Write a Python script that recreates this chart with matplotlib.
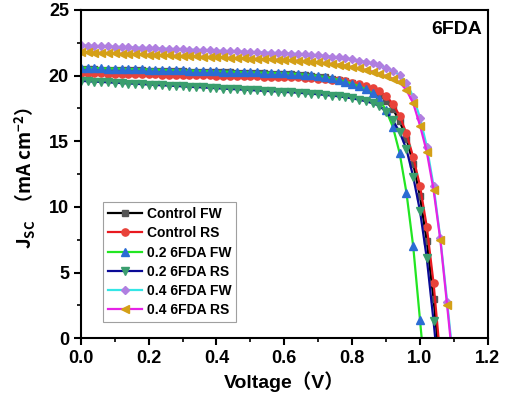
import numpy as np
import matplotlib
matplotlib.use("Agg")
from matplotlib import pyplot as plt
from matplotlib.ticker import MultipleLocator

plt.rcParams['font.family'] = ['Liberation Sans', 'Noto Sans CJK SC', 'DejaVu Sans']
plt.rcParams['font.weight'] = 'bold'
plt.rcParams['mathtext.default'] = 'regular'

# voltage grid of the measurement (V), 0.02 V step
voltage = np.round(np.arange(0, 1.101, 0.02), 2)

labels = ['Control FW', 'Control RS', '0.2 6FDA FW', '0.2 6FDA RS',
          '0.4 6FDA FW', '0.4 6FDA RS']

control_fw = [20.50, 20.49, 20.48, 20.46, 20.45, 20.44, 20.43, 20.42, 20.40, 20.39,
              20.38, 20.37, 20.36, 20.34, 20.33, 20.32, 20.31, 20.30, 20.28, 20.27,
              20.26, 20.25, 20.24, 20.22, 20.21, 20.20, 20.19, 20.18, 20.16, 20.15,
              20.14, 20.11, 20.08, 20.04, 19.99, 19.93, 19.86, 19.78, 19.68, 19.57,
              19.43, 19.27, 19.08, 18.84, 18.52, 18.08, 17.45, 16.55, 15.20, 13.30,
              10.80, 7.40, 3.00, -2.50]
control_rs = [20.20, 20.19, 20.18, 20.17, 20.16, 20.15, 20.14, 20.13, 20.12, 20.11,
              20.10, 20.09, 20.08, 20.07, 20.06, 20.05, 20.04, 20.03, 20.02, 20.01,
              20.00, 19.99, 19.98, 19.97, 19.96, 19.95, 19.94, 19.93, 19.92, 19.91,
              19.90, 19.88, 19.86, 19.84, 19.81, 19.78, 19.74, 19.69, 19.63, 19.56,
              19.47, 19.36, 19.22, 19.05, 18.82, 18.45, 17.85, 16.95, 15.60, 13.80,
              11.60, 8.50, 4.20, -1.50]
fda02_fw = [20.60, 20.59, 20.57, 20.56, 20.54, 20.53, 20.52, 20.50, 20.49, 20.47,
            20.46, 20.45, 20.43, 20.42, 20.40, 20.39, 20.38, 20.36, 20.35, 20.33,
            20.32, 20.31, 20.29, 20.28, 20.26, 20.25, 20.24, 20.22, 20.21, 20.19,
            20.18, 20.15, 20.12, 20.08, 20.03, 19.97, 19.89, 19.80, 19.69, 19.55,
            19.39, 19.20, 18.97, 18.65, 18.20, 17.35, 16.10, 14.10, 11.10, 7.00,
            1.40, -4.20]
fda02_rs = [19.60, 19.57, 19.54, 19.52, 19.49, 19.46, 19.43, 19.40, 19.38, 19.35,
            19.32, 19.29, 19.26, 19.24, 19.21, 19.18, 19.15, 19.12, 19.10, 19.07,
            19.04, 19.01, 18.98, 18.96, 18.93, 18.90, 18.87, 18.84, 18.82, 18.79,
            18.76, 18.73, 18.70, 18.66, 18.62, 18.58, 18.53, 18.48, 18.42, 18.35,
            18.27, 18.17, 18.05, 17.90, 17.70, 17.25, 16.60, 15.70, 14.40, 12.30,
            9.70, 6.10, 1.30, -4.00]
fda04_fw = [22.30, 22.28, 22.26, 22.24, 22.22, 22.20, 22.18, 22.16, 22.14, 22.12,
            22.10, 22.08, 22.06, 22.04, 22.02, 22.00, 21.98, 21.96, 21.94, 21.92,
            21.90, 21.88, 21.86, 21.84, 21.82, 21.80, 21.78, 21.76, 21.74, 21.72,
            21.70, 21.68, 21.65, 21.62, 21.59, 21.55, 21.50, 21.45, 21.39, 21.32,
            21.24, 21.15, 21.05, 20.93, 20.78, 20.60, 20.38, 20.05, 19.45, 18.40,
            16.80, 14.60, 11.60, 7.60, 2.80, -2.20]
fda04_rs = [21.80, 21.78, 21.76, 21.74, 21.72, 21.70, 21.68, 21.66, 21.64, 21.62,
            21.60, 21.58, 21.56, 21.54, 21.52, 21.50, 21.48, 21.46, 21.44, 21.42,
            21.40, 21.38, 21.36, 21.34, 21.32, 21.30, 21.28, 21.26, 21.24, 21.22,
            21.20, 21.17, 21.14, 21.10, 21.06, 21.01, 20.96, 20.90, 20.83, 20.75,
            20.66, 20.56, 20.44, 20.30, 20.14, 19.96, 19.76, 19.50, 18.90, 17.90,
            16.20, 14.20, 11.30, 7.50, 2.50, -2.60]

series = [control_fw, control_rs, fda02_fw, fda02_rs, fda04_fw, fda04_rs]
line_colors = ['black', '#e8191f', '#22e622', '#0a0a96', '#33e6e6', '#e622e6']
marker_colors = ['#555555', '#e8423a', '#2b6cd4', '#3a9e6e', '#b07fe0', '#d4a017']
markers = ['s', 'o', '^', 'v', 'D', '<']
msizes = [4.5, 5.2, 5.8, 5.8, 4.5, 5.8]

fig = plt.figure(figsize=(5.05, 3.98), dpi=100)
ax = fig.add_axes([0.160, 0.150, 0.806, 0.825])

for j, lab, lc, mc, mk, ms in zip(series, labels, line_colors, marker_colors, markers, msizes):
    ax.plot(voltage[:len(j)], j, color=lc, lw=1.6, marker=mk, markersize=ms,
            markerfacecolor=mc, markeredgecolor=mc, label=lab)

ax.set_xlim(0, 1.2)
ax.set_ylim(0, 25)
ax.xaxis.set_major_locator(MultipleLocator(0.2))
ax.xaxis.set_minor_locator(MultipleLocator(0.1))
ax.yaxis.set_major_locator(MultipleLocator(5))
ax.yaxis.set_minor_locator(MultipleLocator(2.5))
ax.tick_params(which='major', direction='out', length=5, width=1.5, labelsize=13)
ax.tick_params(which='minor', direction='out', length=3, width=1.2)
for lab in ax.get_xticklabels() + ax.get_yticklabels():
    lab.set_fontweight('bold')
for s in ax.spines.values():
    s.set_linewidth(1.5)

ax.set_xlabel('Voltage（V）', fontsize=14, fontweight='bold', labelpad=3)
ax.set_ylabel('J$_{SC}$  （mA cm$^{-2}$）', fontsize=13.5, fontweight='bold',
              family=['Noto Sans CJK SC'])
ax.yaxis.set_label_coords(-0.105, 0.49)

ax.text(0.985, 0.94, '6FDA', transform=ax.transAxes, ha='right', va='center',
        fontsize=14, fontweight='bold')

leg = ax.legend(loc='lower left', bbox_to_anchor=(0.054, 0.049),
                prop={'weight': 'bold', 'size': 10}, frameon=True, fancybox=False,
                edgecolor='#888888', handlelength=2.5, labelspacing=0.38,
                handletextpad=0.3, borderpad=0.35, borderaxespad=0)
leg.get_frame().set_linewidth(0.8)

fig.savefig('out.png', dpi=100)
